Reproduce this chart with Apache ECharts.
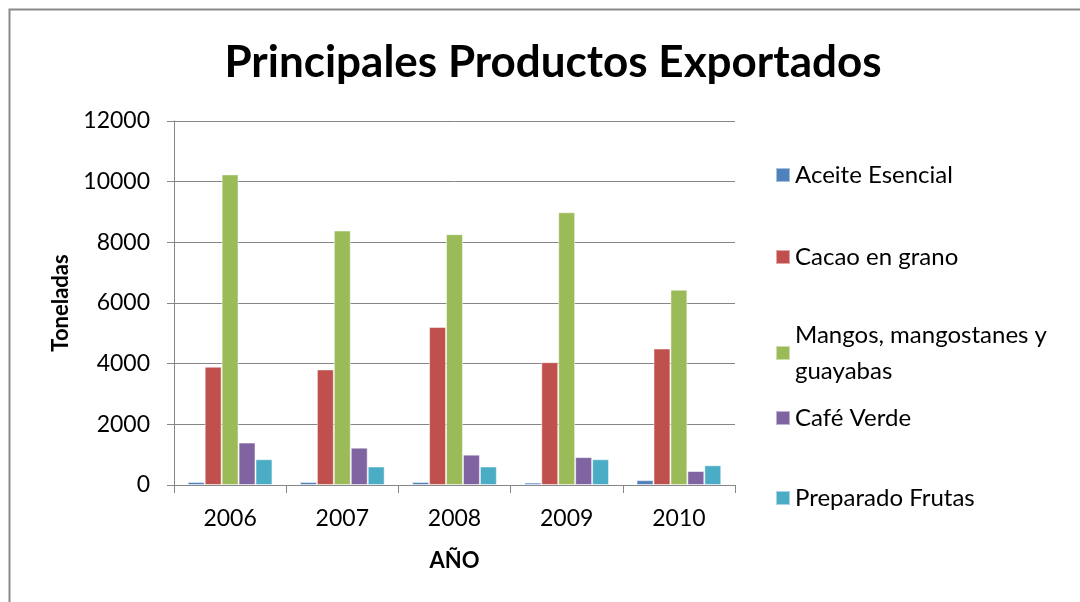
<!DOCTYPE html>
<html>
<head>
<meta charset="utf-8">
<script src="https://cdn.jsdelivr.net/npm/echarts@6/dist/echarts.min.js"></script>
<style>
  html, body { margin: 0; padding: 0; background: #fff; }
  #chart { width: 1080px; height: 602px; }
</style>
</head>
<body>
<div id="chart"></div>
<script>
// datos
const years = ['2006', '2007', '2008', '2009', '2010'];
const aceite = [100, 100, 100, 80, 160];
const cacao = [3900, 3810, 5210, 4050, 4500];
const mangos = [10240, 8390, 8270, 8990, 6440];
const cafe = [1400, 1230, 1000, 920, 460];
const preparado = [850, 610, 610, 850, 650];

const seriesNames = ['Aceite Esencial', 'Cacao en grano', 'Mangos, mangostanes y guayabas', 'Café Verde', 'Preparado Frutas'];
const seriesValues = [aceite, cacao, mangos, cafe, preparado];
const colors = ['#4F81BD', '#C0504D', '#9BBB59', '#8064A2', '#4BACC6'];
const yTicks = [0, 12000, 2000]; // min, max, intervalo

const font = 'Lato, "Open Sans", sans-serif';
const chart = echarts.init(document.getElementById('chart'));

// una leyenda por serie, para colocar cada una como en el original
const legendTops = [152, 234, 312, 395, 475];
const legends = seriesNames.map((name, i) => ({
  data: [name],
  left: 770,
  top: legendTops[i],
  orient: 'vertical',
  icon: 'rect',
  itemWidth: 14,
  itemHeight: 14,
  itemGap: 0,
  selectedMode: false,
  textStyle: {
    fontFamily: font,
    fontSize: 24,
    color: '#000',
    lineHeight: 36,
    padding: [0, 0, 0, 0]
  },
  formatter: (n) => n === 'Mangos, mangostanes y guayabas' ? 'Mangos, mangostanes y\nguayabas' : n
}));

chart.setOption({
  animation: false,
  color: colors,
  title: {
    text: 'Principales Productos Exportados',
    left: 548,
    textAlign: 'center',
    top: 36,
    textStyle: { fontFamily: font, fontSize: 44, fontWeight: 'bold', color: '#000' }
  },
  graphic: [{
    type: 'rect',
    shape: { x: 9.5, y: 9.5, width: 1100, height: 700 },
    style: { fill: 'none', stroke: '#8a8a8a', lineWidth: 2 },
    silent: true
  }],
  legend: legends,
  grid: { left: 174, right: 345, top: 121, bottom: 117 },
  xAxis: {
    type: 'category',
    data: years,
    name: 'AÑO',
    nameLocation: 'middle',
    nameGap: 65,
    nameTextStyle: { fontFamily: font, fontSize: 22, fontWeight: 'bold', color: '#000' },
    axisLine: { lineStyle: { color: '#868686', width: 1 } },
    axisTick: { show: true, length: 8, alignWithLabel: false, lineStyle: { color: '#868686' } },
    axisLabel: { fontFamily: font, fontSize: 23, color: '#000', margin: 22 }
  },
  yAxis: {
    type: 'value',
    min: yTicks[0],
    max: yTicks[1],
    interval: yTicks[2],
    name: 'Toneladas',
    nameLocation: 'middle',
    nameGap: 100,
    nameRotate: 90,
    nameTextStyle: { fontFamily: font, fontSize: 22, fontWeight: 'bold', color: '#000' },
    axisLine: { show: true, lineStyle: { color: '#868686', width: 1 } },
    axisTick: { show: true, length: 7, lineStyle: { color: '#868686' } },
    splitLine: { lineStyle: { color: '#868686', width: 1 } },
    axisLabel: { fontFamily: font, fontSize: 23, color: '#000', margin: 24, formatter: (v) => String(v) }
  },
  series: seriesNames.map((name, i) => ({
    name,
    type: 'bar',
    data: seriesValues[i],
    barGap: '0%',
    barCategoryGap: '24.5%',
    itemStyle: { borderColor: 'rgba(255,255,255,0.5)', borderWidth: 1 }
  }))
});
</script>
</body>
</html>
